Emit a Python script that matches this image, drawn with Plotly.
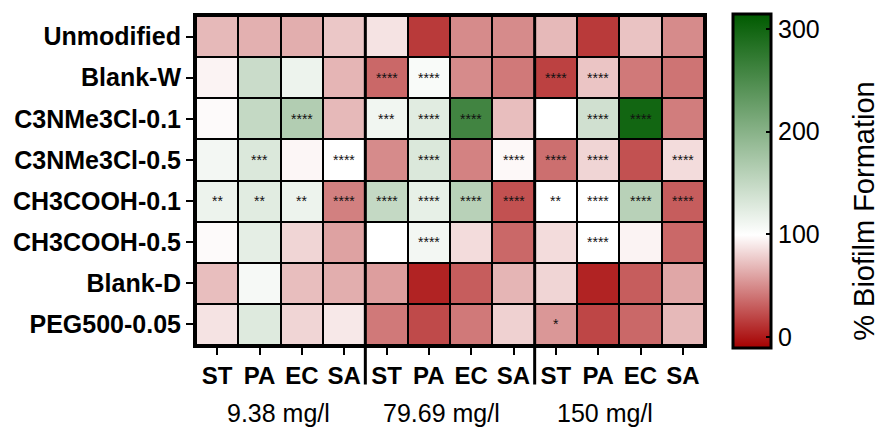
import plotly.graph_objects as go

rows = ["Unmodified", "Blank-W", "C3NMe3Cl-0.1", "C3NMe3Cl-0.5",
        "CH3COOH-0.1", "CH3COOH-0.5", "Blank-D", "PEG500-0.05"]
strains = ["ST", "PA", "EC", "SA"]
concentrations = ["9.38 mg/l", "79.69 mg/l", "150 mg/l"]

# % biofilm formation, columns: (9.38: ST PA EC SA)(79.69: ST PA EC SA)(150: ST PA EC SA)
values = [
    [70, 66, 65, 76, 88, 15, 50, 50, 70, 15, 74, 50],
    [95, 145, 115, 68, 35, 105, 50, 42, 18, 75, 42, 40],
    [98, 150, 165, 70, 112, 125, 260, 72, 100, 140, 300, 44],
    [110, 130, 96, 100, 50, 130, 46, 97, 38, 82, 25, 85],
    [115, 125, 115, 45, 150, 120, 160, 25, 100, 100, 160, 30],
    [98, 122, 82, 60, 100, 110, 85, 35, 85, 100, 95, 35],
    [72, 108, 72, 65, 58, 5, 30, 68, 82, 5, 30, 62],
    [88, 128, 82, 90, 42, 22, 42, 80, 55, 20, 35, 70],
]

significance = [
    ["", "", "", "", "", "", "", "", "", "", "", ""],
    ["", "", "", "", "****", "****", "", "", "****", "****", "", ""],
    ["", "", "****", "", "***", "****", "****", "", "", "****", "****", ""],
    ["", "***", "", "****", "", "****", "", "****", "****", "****", "", "****"],
    ["**", "**", "**", "****", "****", "****", "****", "****", "**", "****", "****", "****"],
    ["", "", "", "", "", "****", "", "", "", "****", "", ""],
    ["", "", "", "", "", "", "", "", "", "", "", ""],
    ["", "", "", "", "", "", "", "", "*", "", "", ""],
]

ncol = len(strains) * len(concentrations)
xs = list(range(ncol))
ys = list(range(len(rows)))

cmin, cmax = -10, 315
white_pos = (100 - cmin) / (cmax - cmin)
colorscale = [[0, "rgb(165,0,0)"], [white_pos, "rgb(255,255,255)"], [1, "rgb(0,90,0)"]]

font_family = "Liberation Sans, Arial, sans-serif"

fig = go.Figure()
fig.add_trace(go.Heatmap(
    z=values, x=xs, y=ys,
    zmin=cmin, zmax=cmax, colorscale=colorscale,
    xgap=2, ygap=2,
    colorbar=dict(
        x=1.057, xanchor="left", xpad=0, ypad=0, thickness=38,
        lenmode="pixels", len=334, y=0.5, yanchor="middle",
        outlinewidth=3, outlinecolor="black",
        tickvals=[0, 100, 200, 300], ticks="inside", ticklen=6,
        tickwidth=2, tickcolor="black",
        tickfont=dict(family=font_family, size=25, color="black"),
    ),
    hoverongaps=False,
))

# colour bar title
fig.add_annotation(x=1.315, xref="paper", y=0.405, yref="paper",
                   text="% Biofilm Formation", textangle=-90, showarrow=False,
                   xanchor="center", yanchor="middle",
                   font=dict(family=font_family, size=29, color="black"))

for r in range(len(rows)):
    for c in range(ncol):
        if significance[r][c]:
            fig.add_annotation(x=c, y=r, text=significance[r][c], showarrow=False,
                               font=dict(family=font_family, size=14, color="#111111"))

label_shift = [-2, -9, -14]
for g, label in enumerate(concentrations):
    fig.add_annotation(x=g * 4 + 1.5, xref="x", y=-0.207, yref="paper",
                       xshift=label_shift[g],
                       text=label, showarrow=False, yanchor="middle",
                       font=dict(family=font_family, size=25, color="black"))

for sep in [3.5, 7.5]:
    fig.add_shape(type="line", xref="x", yref="paper", x0=sep, x1=sep, y0=1, y1=-0.12,
                  line=dict(color="black", width=3))

fig.update_xaxes(
    range=[-0.5, ncol - 0.5], tickvals=xs, ticktext=strains * len(concentrations),
    ticks="outside", ticklen=7, tickwidth=2, tickcolor="black",
    tickfont=dict(family=font_family, size=24, color="black", weight="bold"),
    showline=True, linewidth=3, linecolor="black", mirror=True, showgrid=False, zeroline=False,
)
fig.update_yaxes(
    range=[len(rows) - 0.5, -0.5], tickvals=ys, ticktext=rows,
    ticks="outside", ticklen=7, tickwidth=2, tickcolor="black",
    tickfont=dict(family=font_family, size=25, color="black", weight="bold"),
    showline=True, linewidth=3, linecolor="black", mirror=True, showgrid=False, zeroline=False,
)
fig.update_layout(
    width=879, height=430,
    margin=dict(l=196, r=175, t=16, b=85),
    plot_bgcolor="black", paper_bgcolor="white",
    showlegend=False,
)
fig.write_html("out.html")
